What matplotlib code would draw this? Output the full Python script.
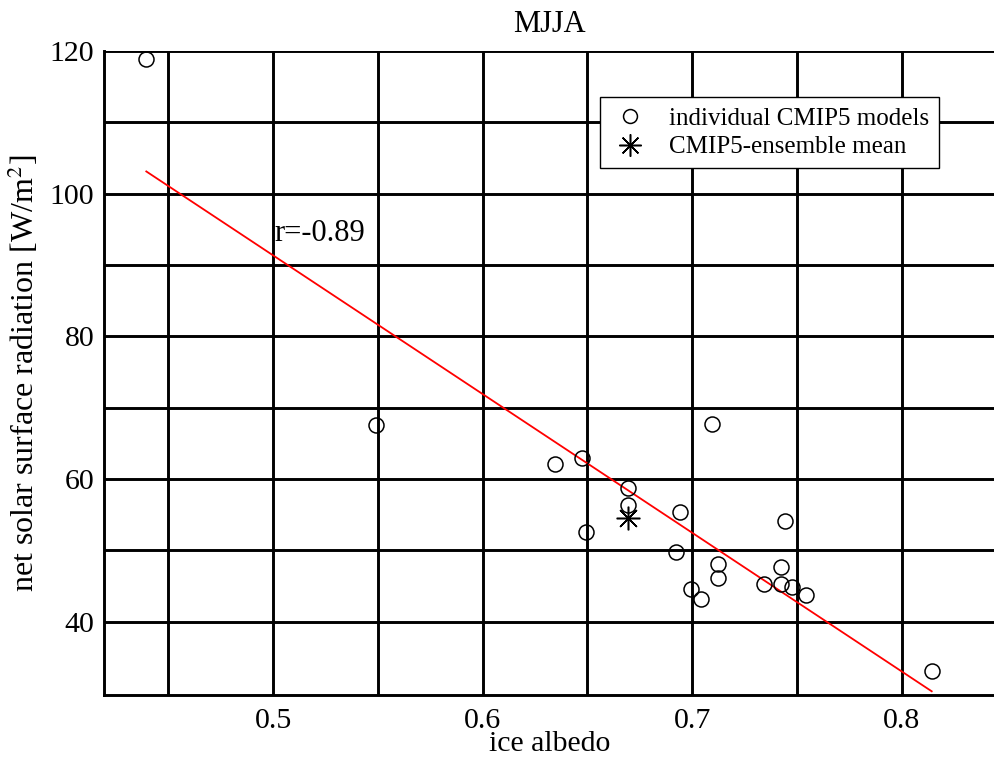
import numpy as np
import matplotlib
matplotlib.use('Agg')
import matplotlib.pyplot as plt
from matplotlib.lines import Line2D

plt.rcParams['font.family'] = ['Liberation Serif', 'DejaVu Serif']
plt.rcParams['mathtext.fontset'] = 'stix'

# individual CMIP5 models (ice albedo, net solar surface radiation)
albedo = [0.4395, 0.549, 0.6343, 0.6475, 0.6495, 0.6694, 0.6694, 0.6924,
          0.6944, 0.6994, 0.7044, 0.7094, 0.7124, 0.7124, 0.7343, 0.7424,
          0.7424, 0.7443, 0.7478, 0.7543, 0.8143]
radiation = [118.9, 67.5, 62.1, 62.9, 52.5, 58.7, 56.4, 49.8,
             55.3, 44.5, 43.1, 67.7, 48.1, 46.1, 45.2, 47.7,
             45.2, 54.1, 44.9, 43.7, 33.1]

# ensemble mean
mean_albedo = [0.6694]
mean_radiation = [54.5]

r_text = 'r=-0.89'
x_ticks = [0.5, 0.6, 0.7, 0.8]
y_ticks = [40, 60, 80, 100, 120]

fig = plt.figure(figsize=(9.95, 7.61), dpi=100)
ax = fig.add_axes([0.1045, 0.0867, 0.8955, 0.8463])

# regression line over the range of the data
coef = np.polyfit(albedo, radiation, 1)
xs = np.array([min(albedo), max(albedo)])
ax.plot(xs, np.polyval(coef, xs), color='red', lw=1.3, zorder=3)

ax.plot(albedo, radiation, 'o', ms=10.8, mfc='none', mec='black', mew=1.1,
        linestyle='none', zorder=4)
ax.plot(mean_albedo, mean_radiation, marker=(8, 2, 0), ms=17, color='black',
        mew=1.1, linestyle='none', zorder=4)

ax.text(0.5005, 93.3, r_text, fontsize=22, ha='left', va='baseline')

ax.set_xlim(0.4193, 0.8445)
ax.set_ylim(29.7, 120)
ax.set_xticks(np.arange(0.45, 0.84, 0.05), minor=True)
ax.set_yticks(np.arange(40, 121, 10), minor=True)
ax.set_xticks(x_ticks)
ax.set_xticklabels([str(t) for t in x_ticks])
ax.set_yticks(y_ticks)
ax.grid(True, which='both', color='black', lw=2.1)
ax.set_axisbelow(True)
ax.tick_params(which='both', length=0, labelsize=21.5)
ax.tick_params(axis='x', pad=9)
ax.tick_params(axis='y', pad=7)

for s in ['top', 'right']:
    ax.spines[s].set_visible(False)
for s in ['left', 'bottom']:
    ax.spines[s].set_linewidth(2.1)

ax.set_xlabel('ice albedo', fontsize=21.5, labelpad=-2)
ax.set_ylabel('net solar surface radiation [W/m$^2$]', fontsize=23, labelpad=6)
ax.set_title('MJJA', fontsize=22, pad=14)

handles = [
    Line2D([], [], marker='o', ms=10, mfc='none', mec='black', mew=1.1, linestyle='none'),
    Line2D([], [], marker=(8, 2, 0), ms=16, color='black', mew=1.1, linestyle='none'),
]
leg = fig.legend(handles, ['individual CMIP5 models', 'CMIP5-ensemble mean'],
                 loc='upper left', bbox_to_anchor=(0.603, 0.8725), fontsize=18,
                 fancybox=False, framealpha=1, edgecolor='black',
                 borderpad=0.4, handletextpad=0.75, labelspacing=0.25,
                 handlelength=1.6, borderaxespad=0)
leg.get_frame().set_linewidth(1.0)

fig.savefig('out.png', dpi=100)
